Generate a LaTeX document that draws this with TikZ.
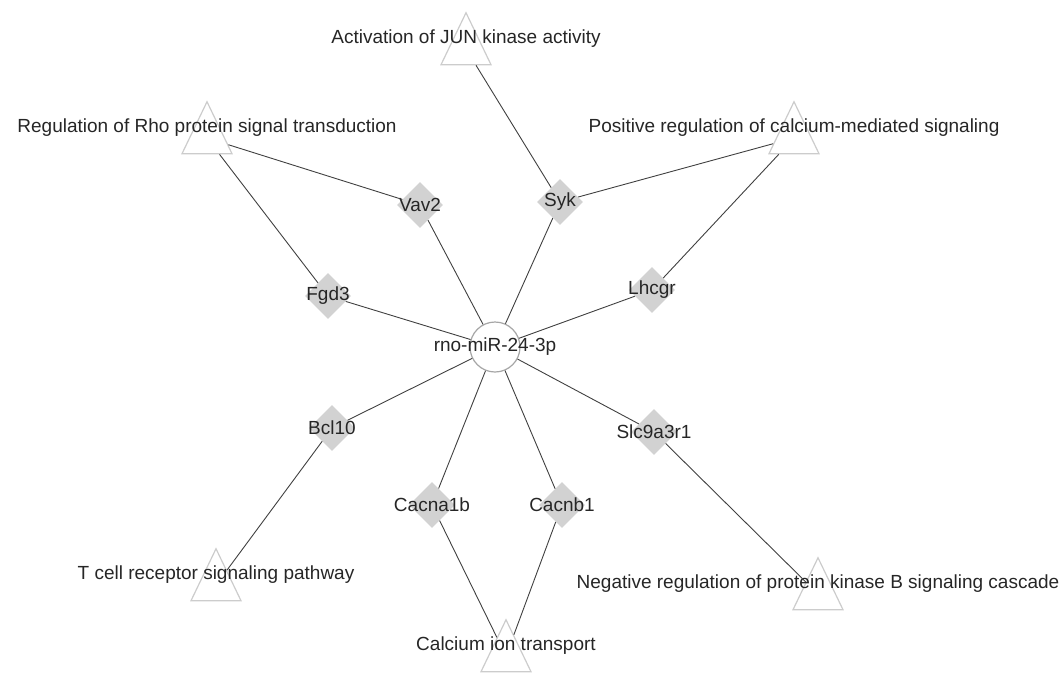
\documentclass[tikz,border=0pt]{standalone}
\usepackage{fontspec}
\setmainfont{Liberation Sans}
\usetikzlibrary{shapes.geometric}

\begin{document}
\begin{tikzpicture}[x=1pt,y=-1pt,
    gene/.style={diamond, fill=gray!35, minimum width=46pt, minimum height=46pt, inner sep=0pt},
    term/.style={isosceles triangle, shape border rotate=90, isosceles triangle apex angle=50,
      isosceles triangle stretches, minimum width=50pt, minimum height=52pt, inner sep=0pt,
      draw=gray!40, line width=1.2pt, fill=white},
    link/.style={draw=black!75, line width=0.9pt},
    every label/.style={font=\fontsize{19}{22}\selectfont, text=black!85}]
  \useasboundingbox (0,0) rectangle (1060,672);

  % microRNA in the middle
  \node[circle, draw=gray!70, line width=1.2pt, fill=white, minimum size=50pt, inner sep=0pt,
    label=center:rno-miR-24-3p] (M) at (495,347) {};

  % target genes
  \foreach \n/\x/\y/\t in {V/420/205/Vav2, S/560/202/Syk, F/328/296/Fgd3, L/652/290/Lhcgr,
      B/332/428/Bcl10, R/654/432/Slc9a3r1, A/432/505/Cacna1b, N/562/505/Cacnb1}
    \node[gene, label=center:\t] (\n) at (\x,\y) {};

  % GO terms (label sits 10pt above the shape's center)
  \node[term, label={[yshift=10pt]center:Activation of JUN kinase activity}] (jun) at (466,49) {};
  \node[term, label={[yshift=10pt]center:Regulation of Rho protein signal transduction}] (rho) at (207,138) {};
  \node[term, label={[yshift=10pt]center:Positive regulation of calcium-mediated signaling}] (cam) at (794,138) {};
  \node[term, label={[yshift=10pt]center:T cell receptor signaling pathway}] (tcr) at (216,585) {};
  \node[term, label={[yshift=10pt]center:Negative regulation of protein kinase B signaling cascade}] (pkb) at (818,594) {};
  \node[term, label={[yshift=10pt]center:Calcium ion transport}] (cit) at (506,656) {};

  \foreach \a/\b in {M/V, M/S, M/F, M/L, M/B, M/R, M/A, M/N,
      V/rho, F/rho, S/jun, S/cam, L/cam, B/tcr, R/pkb, A/cit, N/cit}
    \draw[link] (\a) -- (\b);
\end{tikzpicture}
\end{document}
